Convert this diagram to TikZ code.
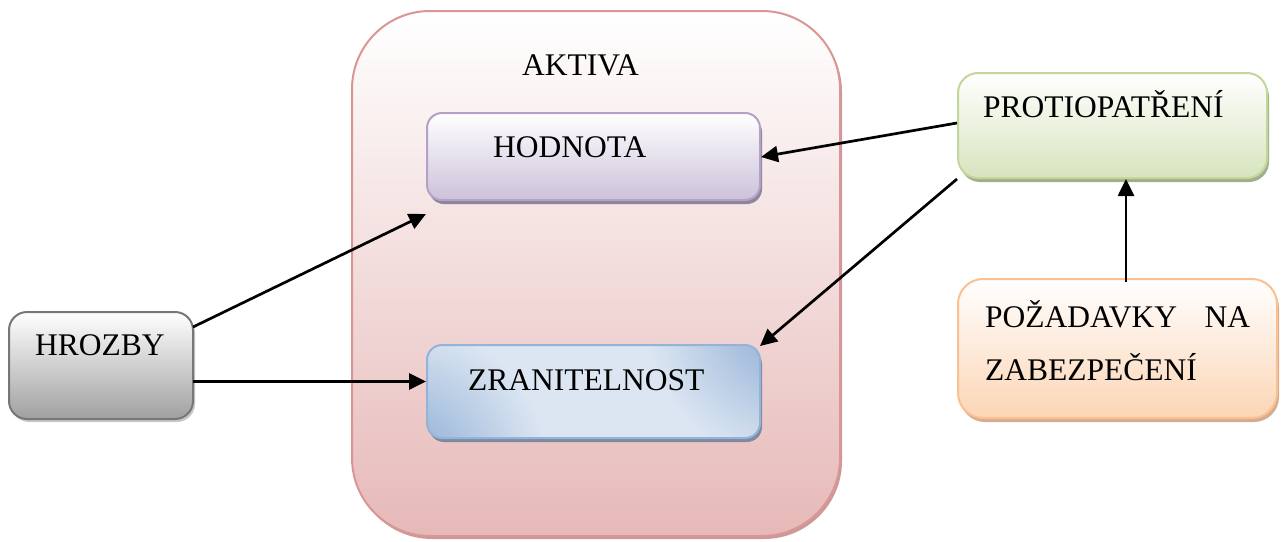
\documentclass[tikz,border=0pt]{standalone}
\usepackage{fontspec}
\setmainfont{Liberation Serif}
\usetikzlibrary{arrows.meta,shadows,calc}
\definecolor{akBorder}{HTML}{D99694}
\definecolor{akBottom}{HTML}{E6B9B8}
\definecolor{akShadow}{HTML}{C99A99}
\definecolor{hoBorder}{HTML}{B3A2C7}
\definecolor{hoBottom}{HTML}{CCC1DA}
\definecolor{hoShadow}{HTML}{8E849C}
\definecolor{zrBorder}{HTML}{95B3D7}
\definecolor{zrDark}{HTML}{95B3D7}
\definecolor{zrLight}{HTML}{DCE6F2}
\definecolor{zrShadow}{HTML}{7D8AA0}
\definecolor{grBorder}{HTML}{777777}
\definecolor{grBottom}{HTML}{A0A0A0}
\definecolor{grShadow}{HTML}{C8C8C8}
\definecolor{geBorder}{HTML}{C3D69B}
\definecolor{geBottom}{HTML}{D7E4BD}
\definecolor{geShadow}{HTML}{A3AE8C}
\definecolor{orBorder}{HTML}{FAC090}
\definecolor{orBottom}{HTML}{FCD5B5}
\definecolor{orShadow}{HTML}{D6AC90}
\begin{document}
\begin{tikzpicture}[x=1pt,y=-1pt,
  box/.style={rectangle, inner sep=0pt, line width=2pt},
  lbl/.style={anchor=base west, inner sep=0pt, font=\fontsize{31.5}{38}\selectfont},
  conn/.style={line width=2.7pt, -{Triangle[length=17pt,width=16pt]}}]
\useasboundingbox (0,0) rectangle (1288,541);
% outer container
\node[box, draw=akBorder, rounded corners=78pt, top color=white, bottom color=akBottom,
  drop shadow={shadow xshift=2pt, shadow yshift=-3pt, fill=akShadow, opacity=1},
  minimum width=488pt, minimum height=525pt] (aktiva) at (596,273.5) {};
\node[lbl] (aktivaT) at (522,75) {AKTIVA};
% inner boxes
\node[box, draw=hoBorder, rounded corners=15pt, top color=white, middle color=hoBottom!55, bottom color=hoBottom,
  drop shadow={shadow xshift=2pt, shadow yshift=-4pt, fill=hoShadow, opacity=1},
  minimum width=333pt, minimum height=87pt] (hodnota) at (593.5,156.5) {};
\node[lbl] (hodnotaT) at (493,157) {HODNOTA};
\node[box, draw=zrBorder, rounded corners=15pt, fill=zrLight,
  drop shadow={shadow xshift=2pt, shadow yshift=-4pt, fill=zrShadow, opacity=1},
  path picture={
    \coordinate (g1) at ($(path picture bounding box.south west)+(-27,34)$);
    \coordinate (g2) at ($(path picture bounding box.north east)+(35,-27)$);
    \foreach \i in {0,...,40}{
      \pgfmathsetmacro\rr{150-\i*3}
      \pgfmathtruncatemacro\pp{100*\i/40}
      \fill[zrDark!\pp!zrLight] (g1) circle (\rr pt);
      \fill[zrDark!\pp!zrLight] (g2) circle (\rr pt);
    }
  },
  minimum width=333pt, minimum height=93pt] (zran) at (593.5,391.5) {};
\node[lbl] (zranT) at (468,390) {ZRANITELNOST};
% left box
\node[box, draw=grBorder, rounded corners=18pt, top color=white, bottom color=grBottom,
  drop shadow={shadow xshift=2pt, shadow yshift=-3pt, fill=grShadow, opacity=1},
  minimum width=184pt, minimum height=107pt] (hrozby) at (101,365.5) {};
\node[lbl] (hrozbyT) at (35,355) {HROZBY};
% right boxes
\node[box, draw=geBorder, rounded corners=20pt, top color=white, middle color=geBottom, bottom color=geBottom,
  drop shadow={shadow xshift=2pt, shadow yshift=-4pt, fill=geShadow, opacity=1},
  minimum width=309pt, minimum height=105pt] (prot) at (1112.5,125.5) {};
\node[lbl] (protT) at (983,117) {PROTIOPATŘENÍ};
\node[box, draw=orBorder, rounded corners=25pt, top color=white, middle color=orBottom, bottom color=orBottom,
  drop shadow={shadow xshift=2pt, shadow yshift=-4pt, fill=orShadow, opacity=1},
  minimum width=319pt, minimum height=139pt] (poz) at (1117.5,348.5) {};
\node[lbl] (pozT1) at (985,327) {\makebox[265pt][s]{POŽADAVKY\hfill NA}};
\node[lbl] (pozT2) at (985,380) {ZABEZPEČENÍ};
% connectors
\draw[conn] ($(hrozby.north east)+(-1,16)$) -- ($(hodnota.south west)+(0,13)$);
\draw[conn] ($(hrozby.east)+(-1,16)$) coordinate (a2s) -- (a2s -| zran.west);
\draw[conn] ($(prot.west)+(0,-2.5)$) -- ($(hodnota.east)+(0,0.5)$);
\draw[conn] ($(prot.south west)+(0,0)$) -- ($(zran.north east)+(-1,2)$);
\draw[conn] ($(poz.north)+(8.5,4)$) coordinate (a5s) -- (a5s |- prot.south);
\end{tikzpicture}
\end{document}
